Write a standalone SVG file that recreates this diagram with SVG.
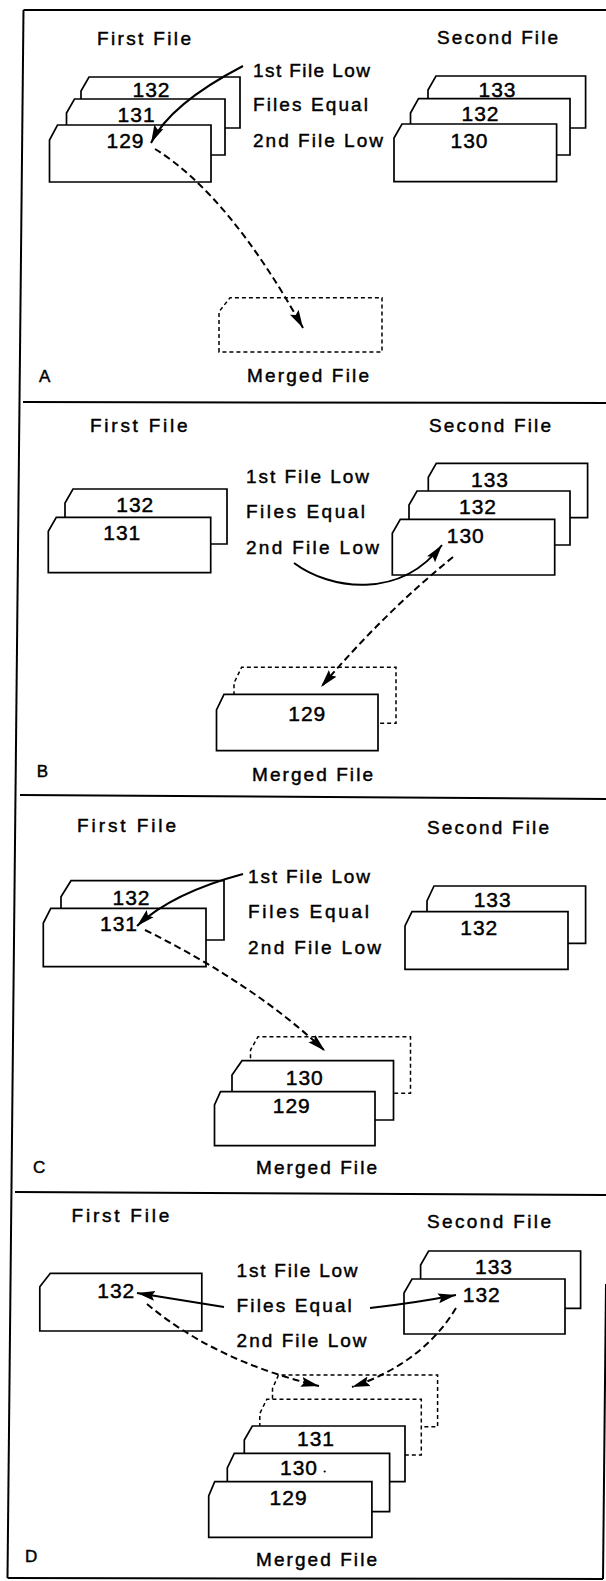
<svg xmlns="http://www.w3.org/2000/svg" width="606" height="1581" viewBox="0 0 606 1581">
<style>
text{font-family:"Liberation Sans",Arial,sans-serif;fill:#000;stroke:#000;stroke-width:0.45}
.lbl{font-size:19px}
.num{font-size:21px;text-anchor:middle;letter-spacing:1px}
.pl{font-size:17px}
.card{fill:#fff;stroke:#000;stroke-width:1.7}
.dcard{fill:#fff;stroke:#000;stroke-width:1.5;stroke-dasharray:4 3}
.frame{fill:none;stroke:#000;stroke-width:2}
.sol{fill:none;stroke:#000;stroke-width:2;marker-end:url(#ah)}
.dsh{fill:none;stroke:#000;stroke-width:2;stroke-dasharray:7 4;marker-end:url(#ah)}
</style>
<defs>
<marker id="ah" markerUnits="userSpaceOnUse" markerWidth="19" markerHeight="11" refX="18" refY="5.5" orient="auto">
<path d="M0,0.5 L18,5.5 L0,10.5 L3,5.5 Z" fill="#000"/>
</marker>
</defs>
<rect width="606" height="1581" fill="#fff"/>
<g id="frame">
<line class="frame" x1="23.5" y1="10" x2="606" y2="10"/>
<line class="frame" x1="23" y1="402" x2="606" y2="403"/>
<line class="frame" x1="20" y1="795" x2="606" y2="799"/>
<line class="frame" x1="15" y1="1192" x2="606" y2="1195"/>
<line class="frame" x1="7.5" y1="1578" x2="603" y2="1579"/>
<line class="frame" x1="23.5" y1="10" x2="7.5" y2="1578"/>
<line class="frame" x1="606" y1="1284" x2="603" y2="1579"/>
</g>

<!-- Panel A -->
<g id="panelA">
<g id="A-labels">
<text class="lbl" x="97" y="45" textLength="94" lengthAdjust="spacing">First File</text>
<text class="lbl" x="437" y="43.5" textLength="121" lengthAdjust="spacing">Second File</text>
<text class="lbl" x="253" y="76.7" textLength="117" lengthAdjust="spacing">1st File Low</text>
<text class="lbl" x="253" y="110.5" textLength="115" lengthAdjust="spacing">Files Equal</text>
<text class="lbl" x="253" y="146.7" textLength="130" lengthAdjust="spacing">2nd File Low</text>
<text class="lbl" x="247" y="381.7" textLength="122" lengthAdjust="spacing">Merged File</text>
<text class="pl" x="39" y="382">A</text>
</g>
<g id="A-first">
<path class="card" d="M81,128 L81,91 L89,77 L240,77 L240,128 Z"/>
<text class="num" x="151.5" y="97">132</text>
<path class="card" d="M66.5,155 L66.5,113 L74.5,99 L225,99 L225,155 Z"/>
<text class="num" x="136.6" y="121.7">131</text>
<path class="card" d="M49.5,182 L49.5,140 L57.5,125 L211,125 L211,182 Z"/>
<text class="num" x="125.5" y="148">129</text>
</g>
<g id="A-second">
<path class="card" d="M428,128 L428,90 L436,76 L585.6,76 L585.6,128 Z"/>
<text class="num" x="497.5" y="97">133</text>
<path class="card" d="M410.5,155 L410.5,113 L418.5,98.7 L570,98.7 L570,155 Z"/>
<text class="num" x="480.5" y="120.7">132</text>
<path class="card" d="M394,181.7 L394,138 L402,124 L556.6,124 L556.6,181.7 Z"/>
<text class="num" x="469.5" y="148">130</text>
</g>
<g id="A-merged">
<path class="dcard" d="M219,352 L219,311.7 L230,297.7 L382,297.7 L382,352 Z"/>
</g>
</g>

<!-- Panel B -->
<g id="panelB">
<g id="B-labels">
<text class="lbl" x="90" y="431.7" textLength="97.5" lengthAdjust="spacing">First File</text>
<text class="lbl" x="429" y="431.7" textLength="122" lengthAdjust="spacing">Second File</text>
<text class="lbl" x="246" y="483.3" textLength="123" lengthAdjust="spacing">1st File Low</text>
<text class="lbl" x="246" y="518.3" textLength="119" lengthAdjust="spacing">Files Equal</text>
<text class="lbl" x="246" y="554" textLength="133" lengthAdjust="spacing">2nd File Low</text>
<text class="lbl" x="252" y="780.7" textLength="121" lengthAdjust="spacing">Merged File</text>
<text class="pl" x="36.7" y="776.7">B</text>
</g>
<g id="B-first">
<path class="card" d="M65,544 L65,503 L73,489 L227,489 L227,544 Z"/>
<text class="num" x="135.3" y="511.7">132</text>
<path class="card" d="M48.3,572.7 L48.3,531.3 L56.3,517.3 L210.7,517.3 L210.7,572.7 Z"/>
<text class="num" x="122.3" y="540">131</text>
</g>
<g id="B-second">
<path class="card" d="M428.3,517.7 L428.3,477.3 L436.3,463.3 L587.6,463.3 L587.6,517.7 Z"/>
<text class="num" x="490" y="487.3">133</text>
<path class="card" d="M409,545 L409,505 L417,491 L570,491 L570,545 Z"/>
<text class="num" x="478" y="514">132</text>
<path class="card" d="M392.3,575 L392.3,533.3 L400.3,519.3 L554.7,519.3 L554.7,575 Z"/>
<text class="num" x="465.8" y="543.3">130</text>
</g>
<g id="B-merged">
<path class="dcard" d="M234,723.3 L234,683 L241.6,667.3 L396,667.3 L396,723.3 Z"/>
<path class="card" d="M216.5,750.7 L216.5,710 L224,694.3 L378,694.3 L378,750.7 Z"/>
<text class="num" x="307.3" y="720.7">129</text>
</g>
</g>

<!-- Panel C -->
<g id="panelC">
<g id="C-labels">
<text class="lbl" x="77" y="831.7" textLength="99" lengthAdjust="spacing">First File</text>
<text class="lbl" x="427" y="834" textLength="122" lengthAdjust="spacing">Second File</text>
<text class="lbl" x="248" y="882.7" textLength="122" lengthAdjust="spacing">1st File Low</text>
<text class="lbl" x="248" y="918" textLength="121" lengthAdjust="spacing">Files Equal</text>
<text class="lbl" x="248" y="954" textLength="133" lengthAdjust="spacing">2nd File Low</text>
<text class="lbl" x="256" y="1174" textLength="121" lengthAdjust="spacing">Merged File</text>
<text class="pl" x="33" y="1173.3">C</text>
</g>
<g id="C-first">
<path class="card" d="M61,940 L61,896.7 L71,880.7 L224,880.7 L224,940 Z"/>
<text class="num" x="131.5" y="905">132</text>
<path class="card" d="M43.3,966.7 L43.3,923 L50.8,908.3 L206,908.3 L206,966.7 Z"/>
<text class="num" x="119" y="930.7">131</text>
</g>
<g id="C-second">
<path class="card" d="M427,943.3 L427,901 L434,886 L585.6,886 L585.6,943.3 Z"/>
<text class="num" x="492.7" y="906.7">133</text>
<path class="card" d="M405,969.3 L405,926 L412,911.7 L568,911.7 L568,969.3 Z"/>
<text class="num" x="479.3" y="935">132</text>
</g>
<g id="C-merged">
<path class="dcard" d="M250.5,1093.3 L250.5,1050 L258,1036.7 L410.5,1036.7 L410.5,1093.3 Z"/>
<path class="card" d="M232,1120 L232,1075 L242,1060.7 L393.5,1060.7 L393.5,1120 Z"/>
<text class="num" x="304.8" y="1085">130</text>
<path class="card" d="M214.5,1145.7 L214.5,1105 L220.5,1091.7 L375,1091.7 L375,1145.7 Z"/>
<text class="num" x="291.8" y="1113.3">129</text>
</g>
</g>

<!-- Panel D -->
<g id="panelD">
<g id="D-labels">
<text class="lbl" x="71.5" y="1221.7" textLength="97.8" lengthAdjust="spacing">First File</text>
<text class="lbl" x="427" y="1228.3" textLength="124" lengthAdjust="spacing">Second File</text>
<text class="lbl" x="236.6" y="1276.7" textLength="121" lengthAdjust="spacing">1st File Low</text>
<text class="lbl" x="236.6" y="1312.3" textLength="115.2" lengthAdjust="spacing">Files Equal</text>
<text class="lbl" x="236.6" y="1347.3" textLength="130" lengthAdjust="spacing">2nd File Low</text>
<text class="lbl" x="256" y="1566" textLength="121" lengthAdjust="spacing">Merged File</text>
<text class="pl" x="25" y="1561.7">D</text>
</g>
<g id="D-first">
<path class="card" d="M39.8,1331 L39.8,1286.7 L50.3,1273.3 L201.8,1273.3 L201.8,1331 Z"/>
<text class="num" x="116.3" y="1298.3">132</text>
</g>
<g id="D-second">
<path class="card" d="M420.6,1308.3 L420.6,1265 L428.6,1251 L580.6,1251 L580.6,1308.3 Z"/>
<text class="num" x="494" y="1274">133</text>
<path class="card" d="M404,1334 L404,1293 L412,1279 L565,1279 L565,1334 Z"/>
<text class="num" x="481.8" y="1302.3">132</text>
</g>
<g id="D-merged">
<path class="dcard" d="M272.5,1426.7 L272.5,1388.5 L278.5,1375 L437.6,1375 L437.6,1426.7 Z"/>
<path class="dcard" d="M259.8,1455 L259.8,1413.5 L266.8,1399.3 L421.3,1399.3 L421.3,1455 Z"/>
<path class="card" d="M244.3,1481.7 L244.3,1440 L252.3,1426 L405,1426 L405,1481.7 Z"/>
<text class="num" x="316" y="1445.7">131</text>
<path class="card" d="M227.3,1511.7 L227.3,1468 L234.3,1453.3 L389.6,1453.3 L389.6,1511.7 Z"/>
<text class="num" x="299" y="1475">130</text>
<circle cx="324.7" cy="1471.5" r="1.1" fill="#000"/>
<path class="card" d="M208.7,1537.3 L208.7,1496 L214.7,1481.7 L371.9,1481.7 L371.9,1537.3 Z"/>
<text class="num" x="288.6" y="1505">129</text>
</g>
</g>

<g id="connectors">
<path class="sol" d="M243,66 Q170,104 151,143"/>
<path class="dsh" d="M155,149 Q229,195 303,328"/>
<path class="sol" d="M294,563 C330,590 400,600 442,545"/>
<path class="dsh" d="M453,557 Q385,612 321,687"/>
<path class="sol" d="M243,874 Q172,893 137,926"/>
<path class="dsh" d="M145,930 Q254,984 325,1051"/>
<path class="sol" d="M224,1307 Q180,1300 137,1293"/>
<path class="sol" d="M370,1308 Q415,1303 456,1295"/>
<path class="dsh" d="M147,1304 Q215,1361 319,1386"/>
<path class="dsh" d="M456,1308 Q423,1363 352,1387"/>
</g>
</svg>
